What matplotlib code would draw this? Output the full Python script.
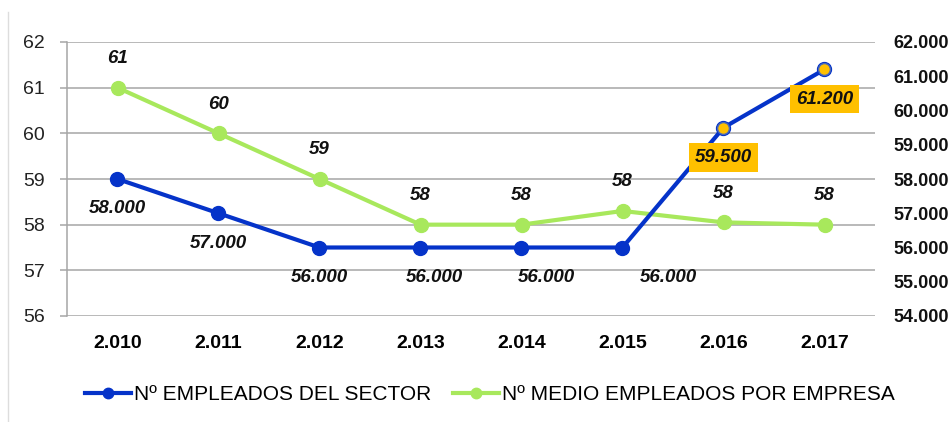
import matplotlib
matplotlib.use("Agg")
import matplotlib.pyplot as plt
from matplotlib.ticker import FuncFormatter, FixedLocator

years = ["2.010", "2.011", "2.012", "2.013", "2.014", "2.015", "2.016", "2.017"]
sector = [58000, 57000, 56000, 56000, 56000, 56000, 59500, 61200]
sector_labels = ["58.000", "57.000", "56.000", "56.000", "56.000", "56.000", "59.500", "61.200"]
medio = [61, 60, 59, 58, 58, 58.3, 58.05, 58.0]
medio_labels = ["61", "60", "59", "58", "58", "58", "58", "58"]

plt.rcParams["font.family"] = ["Liberation Sans", "DejaVu Sans"]

BLUE = "#0533c9"
GREEN = "#a8e85c"
ORANGE = "#ffc000"
GRID = "#a6a6a6"

fig = plt.figure(figsize=(9.48, 4.22), dpi=100)
ax = fig.add_axes([67/948, 1-316/422, (875-67)/948, (316-42)/422])
ax2 = ax.twinx()

x = list(range(len(years)))

ax.set_xlim(-0.5, 7.5)
ax.set_ylim(56, 62)
ax2.set_ylim(54000, 62000)
ax.set_yticks(range(56, 63))
ax2.yaxis.set_major_locator(FixedLocator(range(54000, 62001, 1000)))
ax2.yaxis.set_major_formatter(FuncFormatter(lambda v, p: f"{int(v):,}".replace(",", ".")))

ax.grid(axis="y", color=GRID, lw=1.1)
ax.set_axisbelow(True)
for s in ["top", "right", "bottom"]:
    ax.spines[s].set_visible(False)
    ax2.spines[s].set_visible(False)
ax2.spines["left"].set_visible(False)
ax.spines["left"].set_color(GRID)
ax.spines["left"].set_linewidth(1.1)

ax.tick_params(axis="y", length=5, color=GRID, width=1.1, labelsize=14, pad=11, labelcolor="#222222")
ax2.tick_params(axis="y", length=0, labelsize=13, pad=13, labelcolor="#111111")
for t in ax2.get_yticklabels():
    t.set_fontweight("bold")
ax.set_xticks(x)
ax.set_xticklabels(years, fontsize=14, fontweight="bold")
ax.tick_params(axis="x", length=0, pad=14)

# green series (left axis)
lg, = ax.plot(x, medio, color=GREEN, lw=3, marker="o", ms=10, zorder=3,
              label="Nº MEDIO EMPLEADOS POR EMPRESA")
# blue series (right axis)
lb, = ax2.plot(x, sector, color=BLUE, lw=3, marker="o", ms=10, zorder=3,
               label="Nº EMPLEADOS DEL SECTOR")
ax2.plot(x[6:], sector[6:], ls="none", marker="o", ms=8.5, mfc=ORANGE,
         mec="#4a6ab8", mew=1, zorder=4)

for xi, v, lab in zip(x, medio, medio_labels):
    ax.annotate(lab, (xi, v), xytext=(0, 21), textcoords="offset points",
                ha="center", va="center", fontsize=13.5, fontweight="bold",
                fontstyle="italic", color="#111111")

dx = [0, 0, 0, 10, 18, 33, 0, 0]
for i, (xi, v, lab) in enumerate(zip(x, sector, sector_labels)):
    kw = {}
    if i >= 6:
        kw["bbox"] = dict(boxstyle="square,pad=0.3", fc=ORANGE, ec="none")
    ax2.annotate(lab, (xi, v), xytext=(dx[i], -21.5), textcoords="offset points",
                 ha="center", va="center", fontsize=13.5, fontweight="bold",
                 fontstyle="italic", color="#111111", zorder=5, **kw)

leg = fig.legend([lb, lg], ["Nº EMPLEADOS DEL SECTOR", "Nº MEDIO EMPLEADOS POR EMPRESA"],
                 loc="center", bbox_to_anchor=(490/948, 1-395/422), ncol=2,
                 frameon=False, prop={"size": 15},
                 handlelength=2.2, columnspacing=1.05, handletextpad=0.15,
                 markerscale=0.75)

fig.add_artist(plt.Line2D([8/948, 8/948], [0, 1-12/422], color="#dddddd", lw=1))

fig.savefig("out.png", dpi=100)
